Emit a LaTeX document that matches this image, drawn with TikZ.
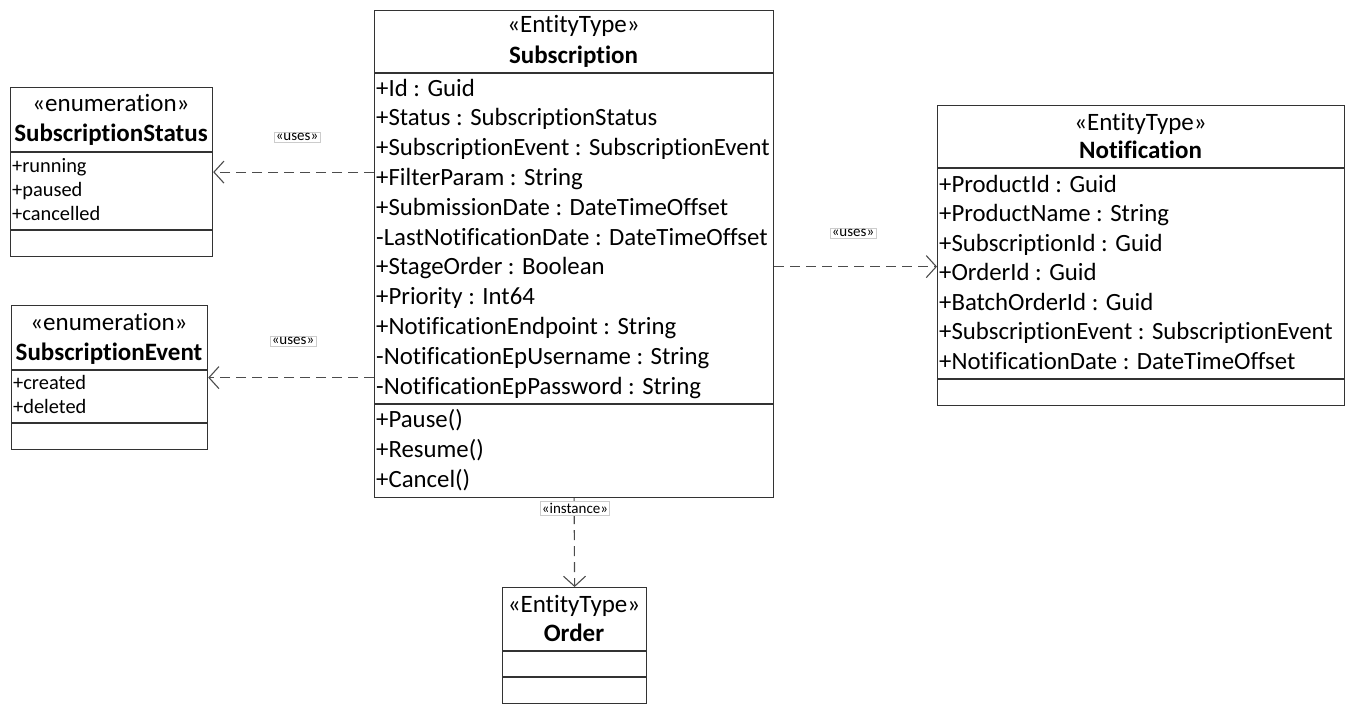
\documentclass[tikz,border=0pt]{standalone}
\usepackage{fontspec}
\setmainfont{Carlito}[Ligatures=NoCommon]
\usetikzlibrary{arrows.meta}
\tikzset{
  cls/.style={draw=black!80, line width=1.2pt, anchor=north west, inner sep=0pt},
  sep/.style={draw=black!80, line width=1.2pt},
  head/.style={inner sep=0pt, text height=19.5pt, text depth=3.5pt, font=\fontsize{25}{25}\selectfont},
  attr/.style={anchor=west, inner sep=0pt, text height=19.5pt, text depth=3.5pt, font=\fontsize{24.8}{25}\selectfont},
  lit/.style={anchor=west, inner sep=0pt, text height=16pt, text depth=2.5pt, font=\fontsize{20.4}{21}\selectfont},
  dep/.style={draw=black!70, line width=1.1pt, dash pattern=on 10pt off 6pt,
    -{Straight Barb[length=10pt,width=22pt]}},
  stereo/.style={draw=black!20, fill=white, inner sep=1.5pt, font=\fontsize{15}{15}\selectfont},
}
\begin{document}
\begin{tikzpicture}[x=1pt,y=-1pt]
    \useasboundingbox (0,0) rectangle (1350,709);
    % Subscription
    \node[cls, minimum width=399pt, minimum height=487pt] (sub) at (374,10) {};
    \draw[sep] (sub.west |- 0,73) -- (sub.east |- 0,73);
    \draw[sep] (sub.west |- 0,404) -- (sub.east |- 0,404);
    \node[head] (subst) at (573.5,25) {«EntityType»};
    \node[head, font=\fontsize{25}{25}\selectfont\bfseries] (subname) at (573.5,56) {Subscription};
    \foreach \t [count=\i] in {+Id : Guid, +Status : SubscriptionStatus,
        +SubscriptionEvent : SubscriptionEvent, +FilterParam : String,
        +SubmissionDate : DateTimeOffset, -LastNotificationDate : DateTimeOffset,
        +StageOrder : Boolean, +Priority : Int64, +NotificationEndpoint : String,
        -NotificationEpUsername : String, -NotificationEpPassword : String} {
        \node[attr] (sa\i) at (376,88+29.8*\i-29.8) {\t};
    }
    \foreach \t [count=\i] in {+Pause(), +Resume(), +Cancel()} {
        \node[attr] (so\i) at (376,419+30*\i-30) {\t};
    }
    % SubscriptionStatus
    \node[cls, minimum width=202pt, minimum height=169pt] (stat) at (10,87) {};
    \draw[sep] (stat.west |- 0,152) -- (stat.east |- 0,152);
    \draw[sep] (stat.west |- 0,230) -- (stat.east |- 0,230);
    \node[head] (statst) at (111,103) {«enumeration»};
    \node[head, font=\fontsize{25}{25}\selectfont\bfseries] (statname) at (111,133) {SubscriptionStatus};
    \foreach \t [count=\i] in {+running, +paused, +cancelled} {
        \node[lit] (sl\i) at (12,166+24*\i-24) {\t};
    }
    % SubscriptionEvent
    \node[cls, minimum width=196pt, minimum height=144pt] (evt) at (11,305) {};
    \draw[sep] (evt.west |- 0,370) -- (evt.east |- 0,370);
    \draw[sep] (evt.west |- 0,423) -- (evt.east |- 0,423);
    \node[head] (evtst) at (109,322) {«enumeration»};
    \node[head, font=\fontsize{25}{25}\selectfont\bfseries] (evtname) at (109,352) {SubscriptionEvent};
    \foreach \t [count=\i] in {+created, +deleted} {
        \node[lit] (el\i) at (13,383+24*\i-24) {\t};
    }
    % Notification
    \node[cls, minimum width=407pt, minimum height=300pt] (note) at (937,105) {};
    \draw[sep] (note.west |- 0,168) -- (note.east |- 0,168);
    \draw[sep] (note.west |- 0,379) -- (note.east |- 0,379);
    \node[head] (notest) at (1140.5,122) {«EntityType»};
    \node[head, font=\fontsize{25}{25}\selectfont\bfseries] (notename) at (1140.5,150) {Notification};
    \foreach \t [count=\i] in {+ProductId : Guid, +ProductName : String,
        +SubscriptionId : Guid, +OrderId : Guid, +BatchOrderId : Guid,
        +SubscriptionEvent : SubscriptionEvent, +NotificationDate : DateTimeOffset} {
        \node[attr] (na\i) at (939,184+29.5*\i-29.5) {\t};
    }
    % Order
    \node[cls, minimum width=144pt, minimum height=116pt] (ord) at (502,587) {};
    \draw[sep] (ord.west |- 0,651) -- (ord.east |- 0,651);
    \draw[sep] (ord.west |- 0,677) -- (ord.east |- 0,677);
    \node[head] (ordst) at (574,604) {«EntityType»};
    \node[head, font=\fontsize{25}{25}\selectfont\bfseries] (ordname) at (574,633) {Order};
    % dependencies
    \draw[dep] (sub.west |- stat.east) -- (stat.east);
    \draw[dep] (sub.west |- evt.east) -- (evt.east);
    \draw[dep] ([yshift=-12.5pt]sub.east) -- ([yshift=-12.5pt]sub.east -| note.west);
    \draw[dep] (sub.south) -- (ord.north);
    \node[stereo] (u1) at (297,137) {«uses»};
    \node[stereo] (u2) at (293,341) {«uses»};
    \node[stereo] (u3) at (853,233) {«uses»};
    \node[stereo] (u4) at (575,508) {«instance»};
\end{tikzpicture}
\end{document}
